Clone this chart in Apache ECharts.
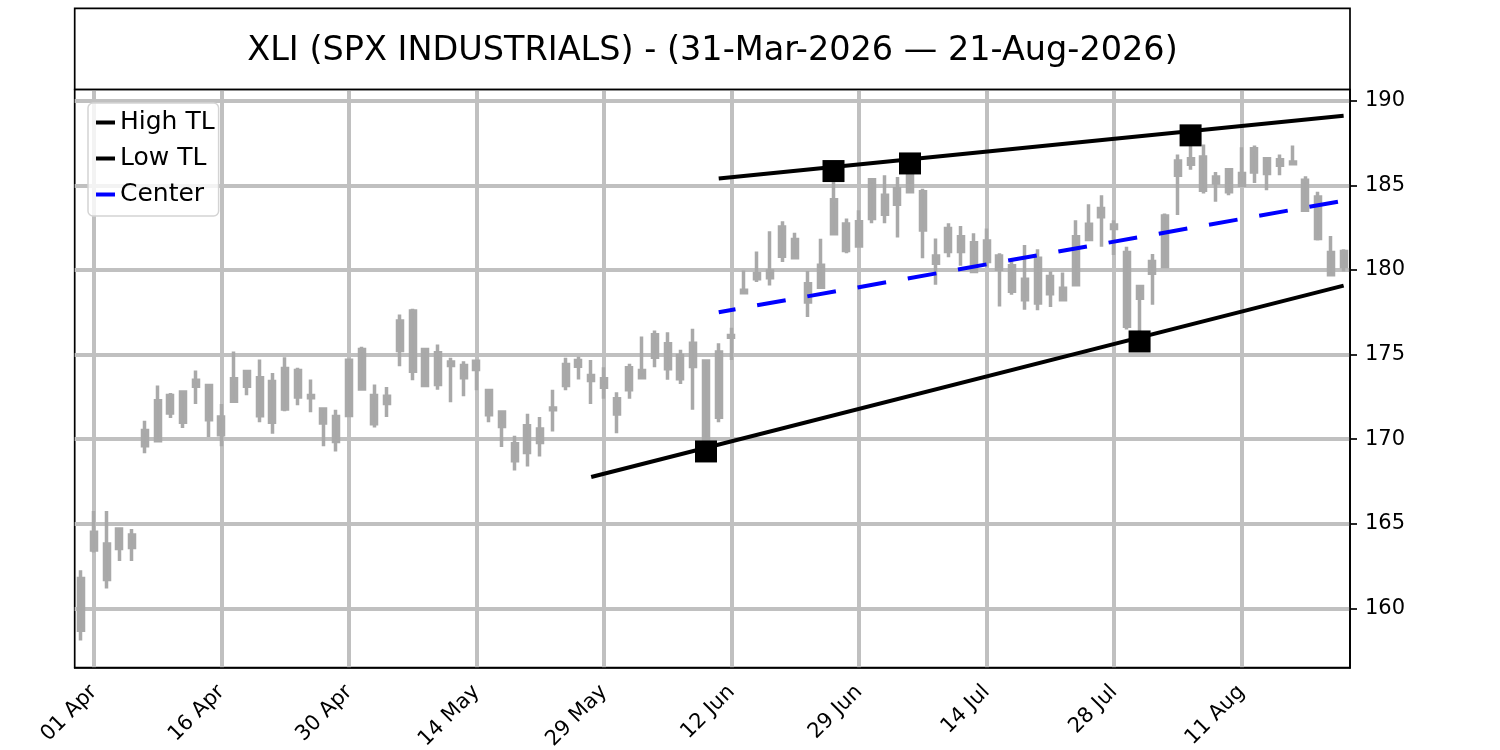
<!DOCTYPE html>
<html>
<head>
<meta charset="utf-8">
<script src="https://cdn.jsdelivr.net/npm/echarts@6.0.0/dist/echarts.min.js"></script>
<style>
  html, body { margin: 0; padding: 0; background: #fff; }
  #chart { width: 1500px; height: 750px; }
</style>
</head>
<body>
<div id="chart"></div>
<script>
// trading days 31-Mar-2026 .. 21-Aug-2026
const dates = [
  '31 Mar',
  '01 Apr','02 Apr','06 Apr','07 Apr','08 Apr','09 Apr','10 Apr','13 Apr','14 Apr','15 Apr','16 Apr',
  '17 Apr','20 Apr','21 Apr','22 Apr','23 Apr','24 Apr','27 Apr','28 Apr','29 Apr','30 Apr',
  '01 May','04 May','05 May','06 May','07 May','08 May','11 May','12 May','13 May','14 May',
  '15 May','18 May','19 May','20 May','21 May','22 May','26 May','27 May','28 May','29 May',
  '01 Jun','02 Jun','03 Jun','04 Jun','05 Jun','08 Jun','09 Jun','10 Jun','11 Jun','12 Jun',
  '15 Jun','16 Jun','17 Jun','18 Jun','22 Jun','23 Jun','24 Jun','25 Jun','26 Jun','29 Jun','30 Jun',
  '01 Jul','02 Jul','06 Jul','07 Jul','08 Jul','09 Jul','10 Jul','13 Jul','14 Jul','15 Jul',
  '16 Jul','17 Jul','20 Jul','21 Jul','22 Jul','23 Jul','24 Jul','27 Jul','28 Jul','29 Jul','30 Jul','31 Jul',
  '03 Aug','04 Aug','05 Aug','06 Aug','07 Aug','10 Aug','11 Aug','12 Aug','13 Aug','14 Aug',
  '17 Aug','18 Aug','19 Aug','20 Aug','21 Aug'
];

// candle bodies (all drawn in the same grey, so only top/bottom matter)
const bodyTop = [
  161.76,164.49,163.80,164.68,164.33,170.51,172.27,172.57,172.79,173.48,
  173.16,171.30,173.56,174.00,173.62,173.40,174.17,174.05,172.57,171.78,
  171.34,174.66,175.30,172.57,172.53,176.98,177.57,175.30,175.10,174.55,
  174.35,174.60,172.87,171.60,169.72,170.79,170.59,171.84,174.41,174.64,
  173.76,173.56,172.38,174.21,174.05,176.16,175.63,174.94,175.67,174.61,
  175.14,176.12,178.79,179.77,179.93,182.53,181.79,179.18,180.27,184.15,
  182.71,182.84,185.33,184.41,184.80,185.69,184.61,180.82,182.45,181.96,
  181.61,181.71,180.82,180.24,179.45,180.69,179.61,178.92,181.96,182.69,
  183.63,182.65,181.02,179.02,180.49,183.18,186.43,186.57,186.67,185.49,
  185.92,185.69,187.16,186.57,186.51,186.37,185.29,184.31,181.02,181.08
];
const bodyBottom = [
  158.70,163.44,161.70,163.54,163.60,169.60,169.90,171.54,170.99,173.12,
  171.15,170.26,172.23,173.12,171.38,170.99,171.78,172.49,172.45,170.95,
  169.86,171.40,172.96,170.91,172.10,175.24,174.01,173.16,173.22,174.35,
  173.62,174.11,171.44,170.75,168.72,169.21,169.80,171.74,173.16,174.31,
  173.46,173.07,171.49,172.91,173.62,174.84,174.15,173.56,174.29,169.91,
  171.29,176.02,178.65,179.48,179.54,180.80,180.72,178.10,178.98,182.14,
  181.14,181.41,183.04,183.29,183.88,184.61,182.35,180.39,181.08,181.08,
  179.90,180.49,180.04,178.73,178.24,178.04,178.59,178.24,179.12,181.80,
  183.14,182.45,176.67,178.33,179.80,180.20,185.59,186.24,184.71,185.14,
  184.61,185.00,185.78,185.69,186.18,186.27,183.53,181.86,179.71,180.20
];
const highs = [
  162.25,165.75,165.75,164.68,164.68,171.09,173.16,172.73,172.79,174.05,
  173.16,172.08,175.18,174.00,174.70,173.91,174.84,174.21,173.52,171.84,
  171.74,174.66,175.45,173.22,173.08,177.37,177.71,175.34,175.59,174.80,
  174.60,174.60,172.87,171.60,170.20,171.50,171.30,172.92,174.80,174.86,
  174.68,174.25,172.77,174.45,176.07,176.42,176.32,175.28,176.52,174.61,
  175.67,176.58,179.97,181.09,182.28,182.87,182.20,179.93,181.84,185.84,
  183.04,183.53,185.39,185.59,185.49,186.29,184.80,181.86,182.75,182.59,
  182.16,182.45,180.98,180.55,181.47,181.22,179.90,179.84,182.94,183.88,
  184.41,182.94,181.37,179.12,180.94,183.33,186.82,187.95,187.41,185.78,
  185.92,187.25,187.35,186.57,186.82,187.35,185.53,184.61,182.00,181.22
];
const lows = [
  158.10,163.30,161.17,162.80,162.80,169.17,169.90,171.25,170.65,172.08,
  170.12,169.57,172.23,172.59,170.99,170.32,171.64,172.00,171.58,169.57,
  169.27,171.40,172.96,170.69,171.30,174.31,173.48,173.12,172.92,172.17,
  172.53,172.89,170.99,169.53,168.14,168.38,168.97,170.45,172.89,173.52,
  172.08,172.38,170.35,172.38,173.56,174.25,173.50,173.26,171.73,169.27,
  171.00,174.68,178.55,179.28,179.08,180.46,180.72,177.21,178.89,182.04,
  180.98,181.41,182.75,182.75,181.92,184.61,180.69,179.12,180.75,180.24,
  179.90,180.20,177.84,178.53,177.65,177.61,177.80,178.24,179.12,181.80,
  181.37,180.88,176.47,175.77,177.94,180.20,183.24,185.92,184.51,184.02,
  184.41,184.90,185.14,184.71,185.59,186.18,183.53,181.73,179.61,179.90
];

// trend lines: [barIndex, price] at both ends
const highTL = [[50, 185.40], [99, 189.11]];
const lowTL = [[40, 167.76], [99, 179.07]];
const centerTL = [[50, 177.50], [99, 184.09]];
// pivot points marked with squares
const pivots = [[49, 169.27], [59, 185.84], [65, 186.29], [83, 175.77], [87, 187.95]];

const yTicks = [160, 165, 170, 175, 180, 185, 190];
const yMin = 156.49, yMax = 190.66;
const titleText = 'XLI (SPX INDUSTRIALS) - (31-Mar-2026 \u2014 21-Aug-2026)';

const FONT = 'DejaVu Sans';
const GREY = '#a9a9a9';
const GRID_GREY = '#c0c0c0';

const candles = dates.map((d, i) => [bodyBottom[i], bodyTop[i], lows[i], highs[i]]);
const tickEvery10 = (idx) => idx % 10 === 1;

const chart = echarts.init(document.getElementById('chart'), null, { renderer: 'canvas' });

chart.setOption({
  animation: false,
  backgroundColor: '#fff',
  grid: {
    left: 74.7, right: 150, top: 89.5, height: 578.2,
    outerBoundsMode: 'none', containLabel: false,
    show: true, borderColor: '#000', borderWidth: 1.7, backgroundColor: 'transparent'
  },
  graphic: [
    {
      type: 'rect',
      shape: { x: 74.7, y: 8.3, width: 1275.3, height: 81.2 },
      style: { fill: 'none', stroke: '#000', lineWidth: 1.7 },
      z: 10
    },
    {
      type: 'text',
      x: 712.5, y: 51.5,
      style: {
        text: titleText, fill: '#000',
        font: '33.5px "DejaVu Sans"',
        textAlign: 'center', textVerticalAlign: 'middle'
      },
      z: 10
    }
  ],
  legend: {
    data: ['High TL', 'Low TL', 'Center'],
    orient: 'vertical',
    left: 88, top: 103,
    icon: 'rect',
    itemWidth: 19, itemHeight: 4,
    itemGap: 11,
    padding: [7, 4, 9, 8],
    backgroundColor: 'rgba(255,255,255,0.8)',
    borderColor: '#d4d4d4', borderWidth: 1.5, borderRadius: 5,
    textStyle: { fontFamily: FONT, fontSize: 25, color: '#000', lineHeight: 25 },
    selectedMode: false
  },
  xAxis: {
    type: 'category',
    data: dates,
    boundaryGap: true,
    axisLine: { lineStyle: { color: '#000', width: 1.7 } },
    axisTick: { alignWithLabel: true, interval: tickEvery10, length: 7, lineStyle: { color: '#000', width: 1.7 } },
    axisLabel: {
      interval: tickEvery10, rotate: 45, margin: 21,
      fontFamily: FONT, fontSize: 21, color: '#000'
    },
    splitLine: { show: true, interval: tickEvery10, alignWithLabel: true, lineStyle: { color: GRID_GREY, width: 4 } }
  },
  yAxis: {
    type: 'value',
    position: 'right',
    min: yMin, max: yMax,
    axisLine: { show: true, lineStyle: { color: '#000', width: 1.7 } },
    axisTick: { show: true, customValues: yTicks, length: 7, lineStyle: { color: '#000', width: 1.7 } },
    axisLabel: { customValues: yTicks, margin: 15, fontFamily: FONT, fontSize: 21, color: '#000' },
    splitLine: { show: true, lineStyle: { color: GRID_GREY, width: 4 } }
  },
  series: [
    {
      type: 'candlestick',
      data: candles,
      barWidth: 5.5,
      itemStyle: {
        color: GREY, color0: GREY,
        borderColor: GREY, borderColor0: GREY, borderColorDoji: GREY,
        borderWidth: 3.5
      },
      emphasis: { disabled: true },
      z: 2
    },
    {
      name: 'High TL', type: 'line', data: highTL,
      symbol: 'none', itemStyle: { color: '#000' },
      lineStyle: { color: '#000', width: 4 }, z: 3
    },
    {
      name: 'Low TL', type: 'line', data: lowTL,
      symbol: 'none', itemStyle: { color: '#000' },
      lineStyle: { color: '#000', width: 4 }, z: 3
    },
    {
      name: 'Center', type: 'line', data: centerTL,
      symbol: 'none', itemStyle: { color: '#0000ff' },
      lineStyle: { color: '#0000ff', width: 4, type: [29, 22], dashOffset: 12, cap: 'butt' }, z: 3
    },
    {
      type: 'scatter', data: pivots,
      symbol: 'rect', symbolSize: 22,
      itemStyle: { color: '#000', opacity: 1 }, z: 4
    }
  ]
});
</script>
</body>
</html>
